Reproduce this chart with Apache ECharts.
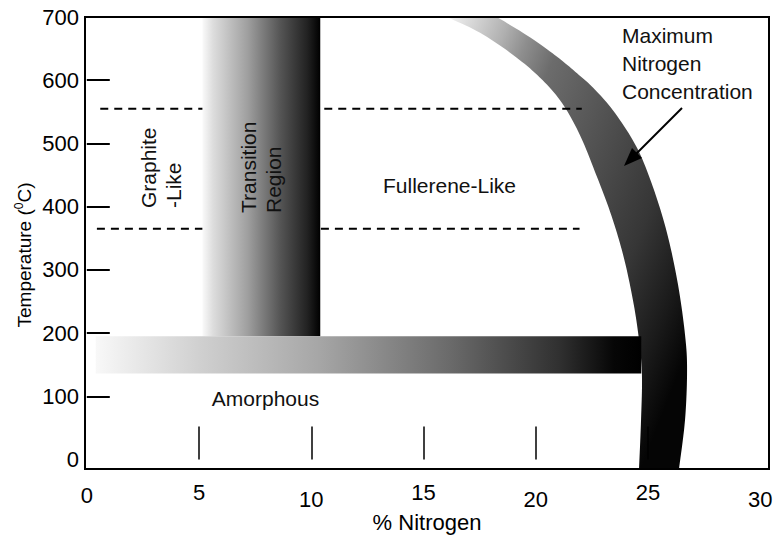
<!DOCTYPE html>
<html>
<head>
<meta charset="utf-8">
<script src="https://cdn.jsdelivr.net/npm/echarts@6/dist/echarts.min.js"></script>
<style>
  html, body { margin: 0; padding: 0; background: #fff; }
  #chart { width: 778px; height: 536px; }
</style>
</head>
<body>
<div id="chart"></div>
<script>
// Axis tick values
const nitrogenTicks = [0, 5, 10, 15, 20, 25, 30];
const nitrogenTickMarks = [5, 10, 15, 20, 25];
const tempTicks = [0, 100, 200, 300, 400, 500, 600, 700];
const tempTickMarks = [100, 200, 300, 400, 500, 600];

// Maximum nitrogen concentration band: outer and inner edges [% N, °C]
const maxNOuter = [[18.27, 700], [19.74, 668], [20.95, 637], [21.84, 611], [22.64, 585],
  [23.53, 548], [24.51, 493], [25.22, 431], [25.85, 358], [26.34, 276], [26.65, 197],
  [26.74, 142], [26.65, 63], [26.38, -15]];
const maxNInner = [[16.05, 700], [17.52, 675], [18.99, 640], [20.19, 604], [21.17, 564],
  [21.97, 513], [22.64, 455], [23.31, 392], [23.89, 324], [24.33, 252], [24.6, 189],
  [24.73, 134], [24.69, 63], [24.6, -15]];

// Shaded regions: [xStart, xEnd, tempLow, tempHigh]
const transitionRegion = [5.15, 10.4, 195, 700];
const amorphousBand = [0.4, 24.7, 136, 195];

// Dashed phase boundaries: [xStart, xEnd, temperature]
const upperBoundary = [0.6, 22.05, 555];
const lowerBoundary = [0.45, 21.95, 365];

const FONT = "'Liberation Sans', Arial, Helvetica, sans-serif";
const G = { left: 85, top: 17, width: 684, height: 452 };

const chart = echarts.init(document.getElementById('chart'), null, { renderer: 'svg' });

function rectItem(params, api) {
  const p0 = api.coord([api.value(0), api.value(3)]);
  const p1 = api.coord([api.value(1), api.value(2)]);
  return { x0: p0[0], y0: p0[1], w: p1[0] - p0[0], h: p1[1] - p0[1] };
}

// Smooth an edge (already in pixels) with a Catmull-Rom curve for drawing
function smoothEdge(pts, steps) {
  const out = [];
  for (let i = 0; i < pts.length - 1; i++) {
    const p0 = pts[Math.max(i - 1, 0)], p1 = pts[i], p2 = pts[i + 1],
      p3 = pts[Math.min(i + 2, pts.length - 1)];
    for (let s = 0; s < steps; s++) {
      const t = s / steps, t2 = t * t, t3 = t2 * t;
      const f = (a, b, c, d) => 0.5 * ((2 * b) + (-a + c) * t +
        (2 * a - 5 * b + 4 * c - d) * t2 + (-a + 3 * b - 3 * c + d) * t3);
      out.push([f(p0[0], p1[0], p2[0], p3[0]), f(p0[1], p1[1], p2[1], p3[1])]);
    }
  }
  out.push(pts[pts.length - 1]);
  return out;
}

const bandFill = new echarts.graphic.LinearGradient(0, 0, 1, 0.74, [
  { offset: 0, color: '#f4f4f4' },
  { offset: 0.17, color: '#b0b0b0' },
  { offset: 0.24, color: '#8e8e8e' },
  { offset: 0.33, color: '#6c6c6c' },
  { offset: 0.63, color: '#454545' },
  { offset: 0.75, color: '#363636' },
  { offset: 0.9, color: '#1a1a1a' },
  { offset: 1, color: '#050505' }
]);

const transitionFill = new echarts.graphic.LinearGradient(0, 0, 1, 0, [
  { offset: 0, color: '#fafafa' },
  { offset: 0.09, color: '#dddddd' },
  { offset: 0.38, color: '#a0a0a0' },
  { offset: 0.66, color: '#555555' },
  { offset: 0.89, color: '#222222' },
  { offset: 1, color: '#000000' }
]);

const amorphousFill = new echarts.graphic.LinearGradient(0, 0, 1, 0, [
  { offset: 0, color: '#f8f8f8' },
  { offset: 0.19, color: '#d0d0d0' },
  { offset: 0.41, color: '#a6a6a6' },
  { offset: 0.65, color: '#6a6a6a' },
  { offset: 0.85, color: '#303030' },
  { offset: 0.95, color: '#060606' },
  { offset: 1, color: '#000000' }
]);

const option = {
  backgroundColor: '#fff',
  animation: false,
  grid: { left: G.left, top: G.top, width: G.width, height: G.height, show: false,
    containLabel: false, outerBoundsMode: 'none' },
  xAxis: {
    type: 'value', min: -0.08, max: 30.39, z: 10,
    name: '% Nitrogen', nameLocation: 'middle', nameGap: 42, nameMoveOverlap: false,
    nameTextStyle: { fontFamily: FONT, fontSize: 22, color: '#000' },
    axisLine: { show: false },
    axisTick: { show: true, inside: true, length: 33, customValues: nitrogenTickMarks,
      lineStyle: { color: '#000', width: 1.5 } },
    axisLabel: {
      customValues: nitrogenTicks, margin: 12,
      formatter: function (v) {
        if (v === 0) return '{z|' + v + '}';
        return (v % 10 === 0) ? '{lo|' + v + '}' : '{n|' + v + '}';
      },
      rich: {
        n: { fontFamily: FONT, fontSize: 22, color: '#000' },
        z: { fontFamily: FONT, fontSize: 22, color: '#000', padding: [3, 0, 0, 0] },
        lo: { fontFamily: FONT, fontSize: 22, color: '#000', padding: [7, 0, 0, 0] }
      }
    },
    splitLine: { show: false }
  },
  yAxis: {
    type: 'value', min: -15, max: 700, z: 10,
    axisLine: { show: false },
    axisTick: { show: true, inside: true, length: 23, customValues: tempTickMarks,
      lineStyle: { color: '#000', width: 2 } },
    axisLabel: { customValues: tempTicks, margin: 6, fontFamily: FONT, fontSize: 22, color: '#000' },
    splitLine: { show: false }
  },
  series: [
    {
      type: 'custom', name: 'Maximum Nitrogen Concentration', clip: true, z: 2,
      data: [[maxNOuter[0][0], maxNOuter[0][1]]],
      renderItem: function (params, api) {
        const outer = smoothEdge(maxNOuter.map(p => api.coord(p)), 10);
        const inner = smoothEdge(maxNInner.map(p => api.coord(p)), 10);
        const pts = outer.concat(inner.reverse());
        return { type: 'polygon', shape: { points: pts },
          style: { fill: bandFill, stroke: null } };
      }
    },
    {
      type: 'line', name: 'upper', z: 3, symbol: 'none', silent: true,
      data: [[upperBoundary[0], upperBoundary[2]], [upperBoundary[1], upperBoundary[2]]],
      lineStyle: { color: '#000', width: 2, type: [8, 6] }
    },
    {
      type: 'line', name: 'lower', z: 3, symbol: 'none', silent: true,
      data: [[lowerBoundary[0], lowerBoundary[2]], [lowerBoundary[1], lowerBoundary[2]]],
      lineStyle: { color: '#000', width: 2, type: [8, 6] }
    },
    {
      type: 'custom', name: 'Transition Region', clip: true, z: 4,
      encode: { x: [0, 1], y: [2, 3] },
      data: [transitionRegion],
      renderItem: function (params, api) {
        const r = rectItem(params, api);
        return { type: 'rect', shape: { x: r.x0, y: r.y0, width: r.w, height: r.h },
          style: { fill: transitionFill } };
      }
    },
    {
      type: 'custom', name: 'Amorphous', clip: true, z: 5,
      encode: { x: [0, 1], y: [2, 3] },
      data: [amorphousBand],
      renderItem: function (params, api) {
        const r = rectItem(params, api);
        return { type: 'rect', shape: { x: r.x0, y: r.y0, width: r.w, height: r.h },
          style: { fill: amorphousFill } };
      }
    }
  ],
  graphic: [
    // plot frame
    { type: 'rect', z: 100, silent: true,
      shape: { x: G.left, y: G.top, width: G.width, height: G.height },
      style: { fill: null, stroke: '#000', lineWidth: 2 } },
    // y axis title with superscript
    { type: 'text', z: 50, x: 24, y: 255, rotation: Math.PI / 2,
      style: {
        text: '{a|Temperature (}{s|0}{a|C)}', align: 'center', verticalAlign: 'middle',
        rich: {
          a: { font: '19px ' + FONT, fill: '#000', lineHeight: 22 },
          s: { font: '12px ' + FONT, fill: '#000', lineHeight: 12, verticalAlign: 'top' }
        }
      } },
    { type: 'text', z: 50, x: 160.5, y: 208, rotation: Math.PI / 2,
      style: { text: 'Graphite\n-Like', align: 'left', verticalAlign: 'middle',
        font: '21px ' + FONT, lineHeight: 25, fill: '#111' } },
    { type: 'text', z: 50, x: 260.5, y: 213, rotation: Math.PI / 2,
      style: { text: 'Transition\nRegion', align: 'left', verticalAlign: 'middle',
        font: '21px ' + FONT, lineHeight: 25, fill: '#111' } },
    { type: 'text', z: 50, x: 449.5, y: 185,
      style: { text: 'Fullerene-Like', align: 'center', verticalAlign: 'middle',
        font: '21px ' + FONT, fill: '#111' } },
    { type: 'text', z: 50, x: 265.5, y: 398,
      style: { text: 'Amorphous', align: 'center', verticalAlign: 'middle',
        font: '21px ' + FONT, fill: '#111' } },
    { type: 'text', z: 50, x: 622, y: 63,
      style: { text: 'Maximum\nNitrogen\nConcentration', align: 'left', verticalAlign: 'middle',
        font: '21px ' + FONT, lineHeight: 28, fill: '#111' } },
    // arrow pointing at the band
    { type: 'line', z: 50, shape: { x1: 682, y1: 108, x2: 632, y2: 158 },
      style: { stroke: '#000', lineWidth: 2 } },
    { type: 'polygon', z: 50, shape: { points: [[624, 166], [642, 158], [632, 148]] },
      style: { fill: '#000' } }
  ]
};

chart.setOption(option);
</script>
</body>
</html>
